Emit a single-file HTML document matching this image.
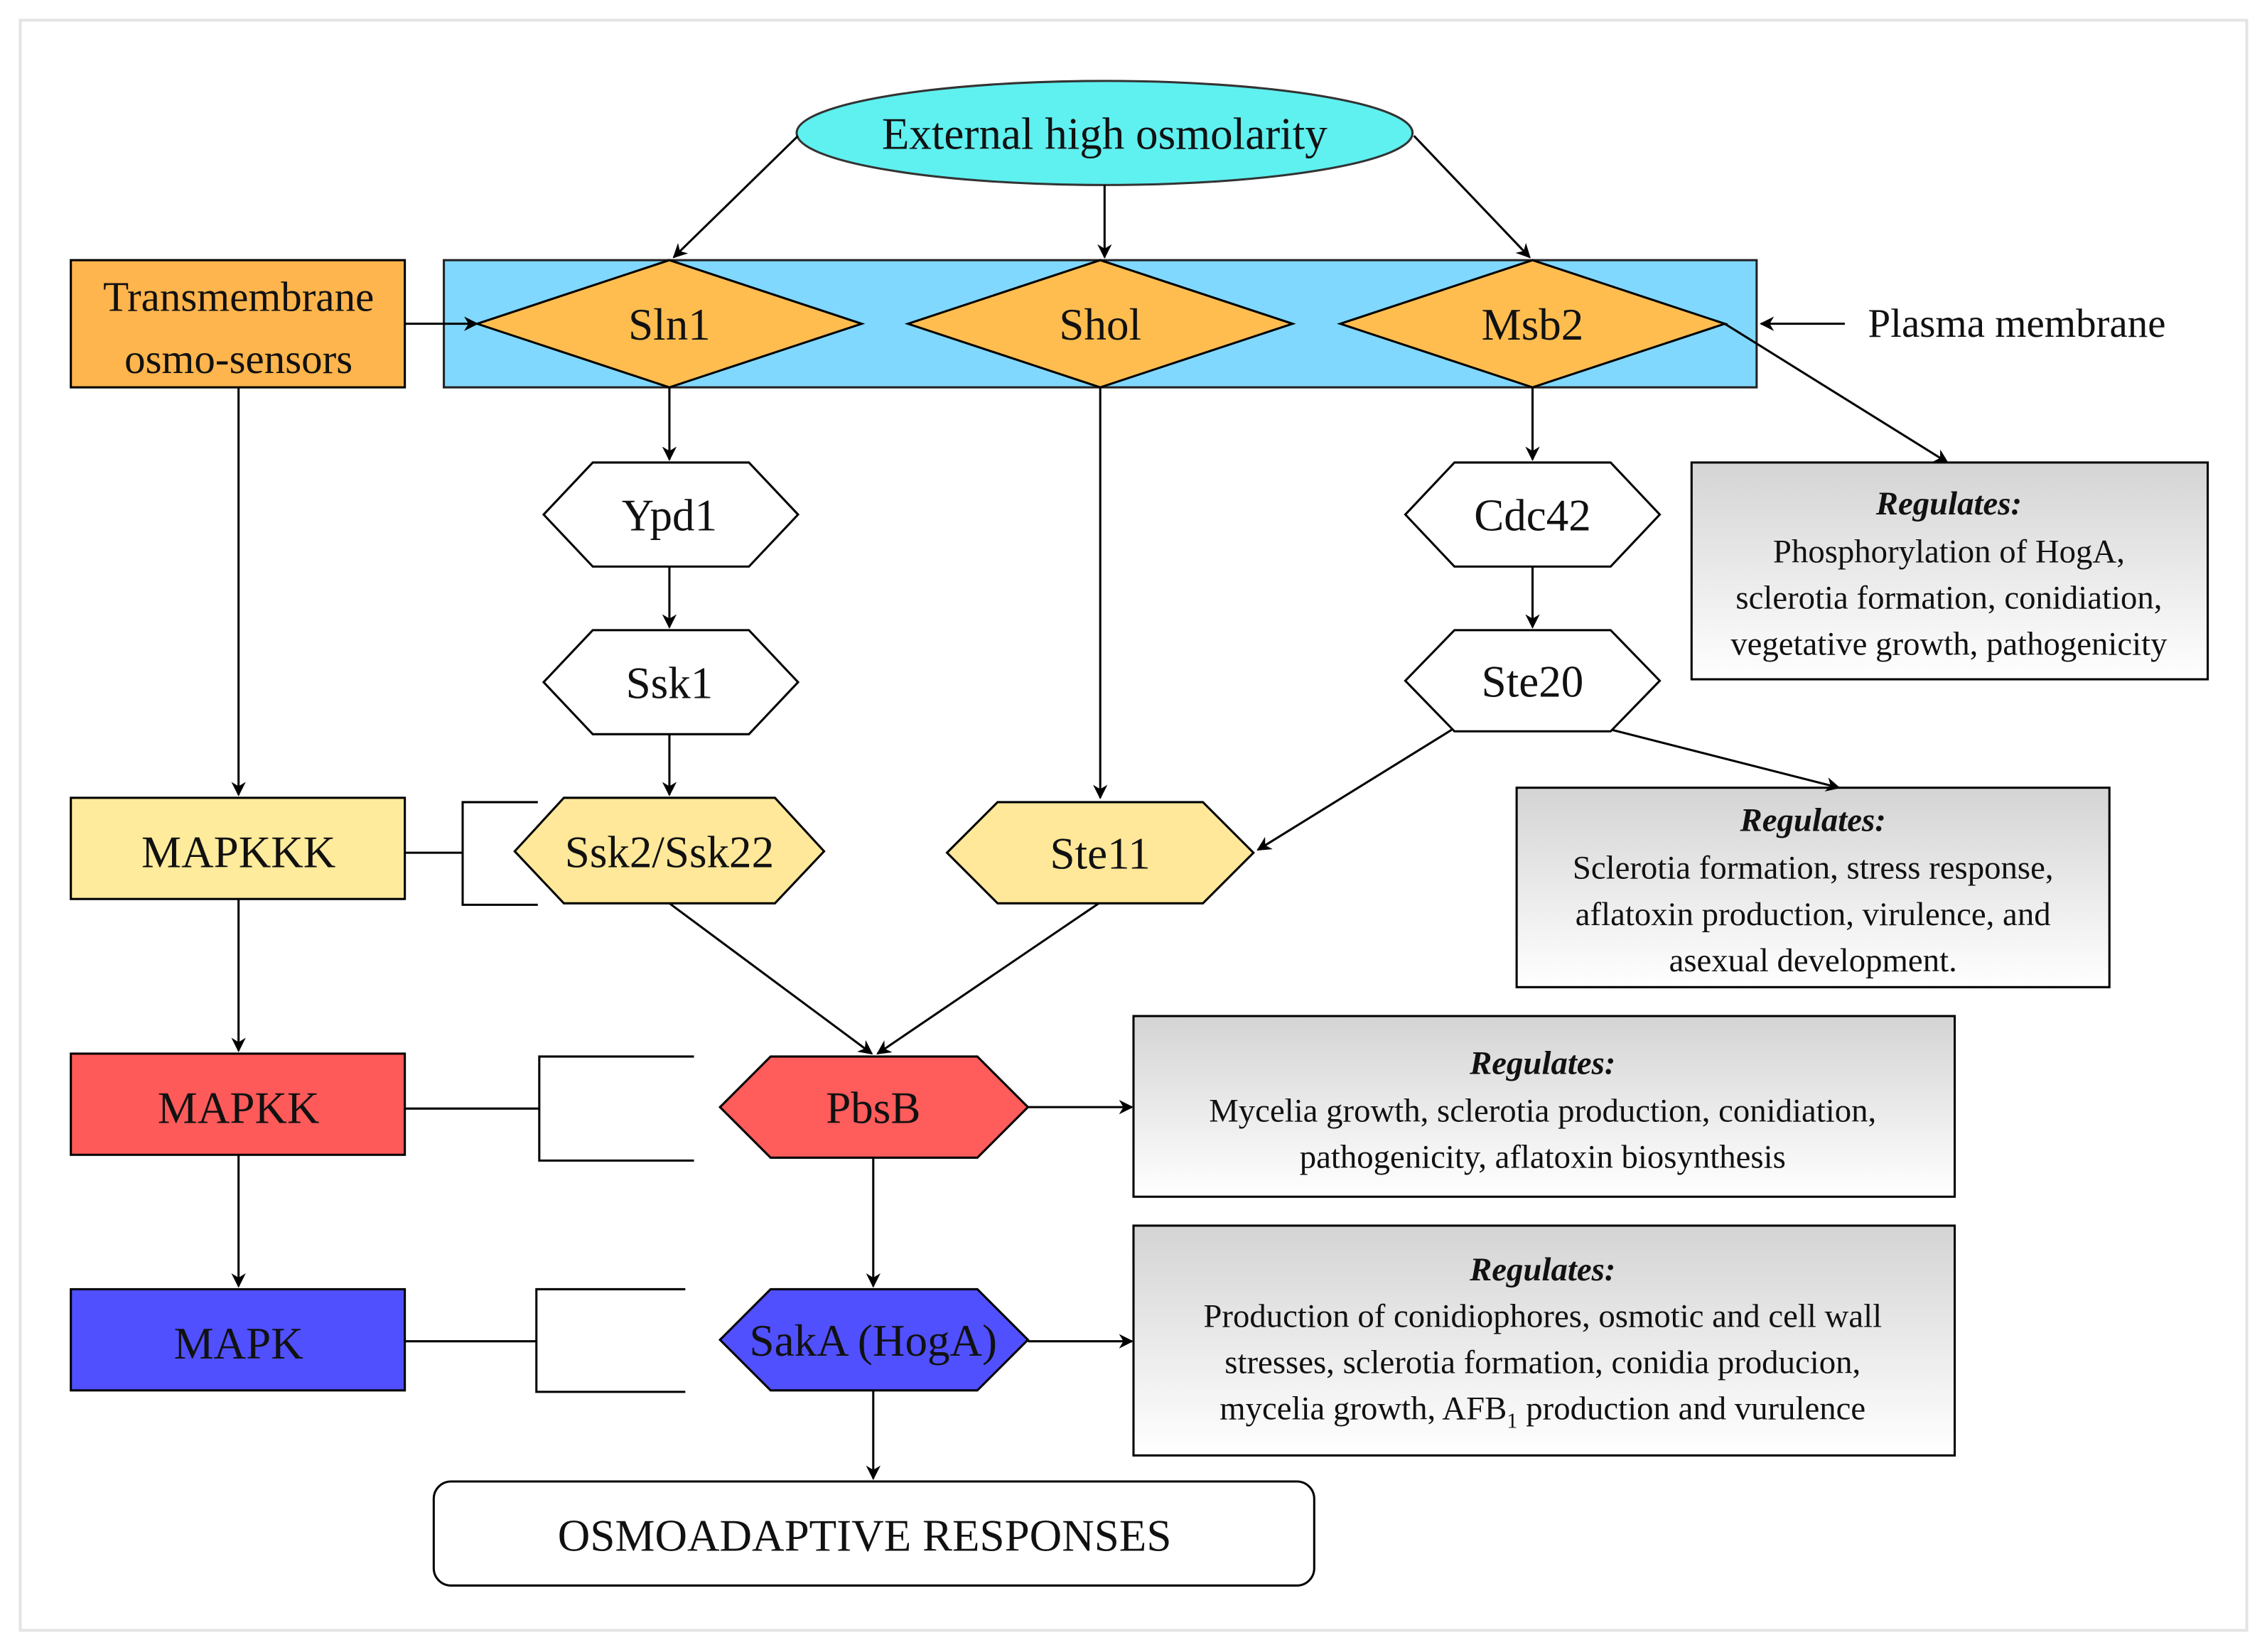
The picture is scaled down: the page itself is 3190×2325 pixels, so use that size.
<!DOCTYPE html>
<html><head><meta charset="utf-8"><style>html,body{margin:0;padding:0;background:#fff}svg{display:block}text{font-family:"Liberation Serif","DejaVu Serif",serif}</style></head>
<body>
<svg width="3190" height="2325" viewBox="0 0 1568 1143" preserveAspectRatio="none" xmlns="http://www.w3.org/2000/svg" style="font-family:'Liberation Serif',serif">
<defs>
<linearGradient id="g" x1="0" y1="0" x2="0" y2="1"><stop offset="0" stop-color="#d4d4d4"/><stop offset="1" stop-color="#ffffff"/></linearGradient>
<marker id="a" markerWidth="10" markerHeight="10" refX="9" refY="5" orient="auto" markerUnits="userSpaceOnUse"><path d="M0,0 L10,5 L0,10 L3,5 z" fill="#000"/></marker>
</defs>
<rect x="0" y="0" width="1568" height="1143" fill="#fff"/>
<rect x="14" y="14" width="1540" height="1114" fill="none" stroke="#e4e4e4" stroke-width="2"/>
<g stroke="#000" stroke-width="1.5">
<ellipse cx="764" cy="92" rx="213" ry="36" fill="#5ff0f0" stroke="#333"/>
<rect x="307" y="180" width="908" height="88" fill="#80d8ff" stroke="#222"/>
<polygon points="330,224 463,180 596,224 463,268" fill="#ffbd4f"/>
<polygon points="628,224 761,180 894,224 761,268" fill="#ffbd4f"/>
<polygon points="927,224 1060,180 1193,224 1060,268" fill="#ffbd4f"/>
<rect x="49" y="180" width="231" height="88" fill="#ffb54d"/>
<polygon points="376,356 410,320 518,320 552,356 518,392 410,392" fill="#fff"/>
<polygon points="376,472 410,436 518,436 552,472 518,508 410,508" fill="#fff"/>
<polygon points="972,356 1006,320 1114,320 1148,356 1114,392 1006,392" fill="#fff"/>
<polygon points="972,471 1006,436 1114,436 1148,471 1114,506 1006,506" fill="#fff"/>
<rect x="1170" y="320" width="357" height="150" fill="url(#g)"/>
<rect x="1049" y="545" width="410" height="138" fill="url(#g)"/>
<rect x="784" y="703" width="568" height="125" fill="url(#g)"/>
<rect x="784" y="848" width="568" height="159" fill="url(#g)"/>
<rect x="49" y="552" width="231" height="70" fill="#ffeb9c"/>
<polygon points="356,589 390,552 536,552 570,589 536,625 390,625" fill="#ffe899"/>
<polygon points="655,590 690,555 832,555 867,590 832,625 690,625" fill="#ffe899"/>
<rect x="49" y="729" width="231" height="70" fill="#ff5a5a"/>
<polygon points="498,766 533,731 676,731 711,766 676,801 533,801" fill="#ff5c5c"/>
<rect x="49" y="892" width="231" height="70" fill="#5050ff"/>
<polygon points="498,927 533,892 676,892 711,927 676,962 533,962" fill="#5050ff"/>
<rect x="300" y="1025" width="609" height="72" rx="12" fill="#fff"/>
<g fill="none">
<polyline points="372,555 320,555 320,626 372,626"/><line x1="280" y1="590" x2="320" y2="590"/>
<polyline points="480,731 373,731 373,803 480,803"/><line x1="280" y1="767" x2="373" y2="767"/>
<polyline points="474,892 371,892 371,963 474,963"/><line x1="280" y1="928" x2="371" y2="928"/>
</g>
<g fill="none" marker-end="url(#a)">
<line x1="552" y1="94" x2="466" y2="178"/>
<line x1="764" y1="128" x2="764" y2="178"/>
<line x1="978" y1="94" x2="1058" y2="178"/>
<line x1="463" y1="268" x2="463" y2="318"/>
<line x1="463" y1="392" x2="463" y2="434"/>
<line x1="463" y1="508" x2="463" y2="550"/>
<line x1="761" y1="268" x2="761" y2="552"/>
<line x1="1060" y1="268" x2="1060" y2="318"/>
<line x1="1060" y1="392" x2="1060" y2="434"/>
<line x1="1004" y1="505" x2="870" y2="588"/>
<line x1="1115" y1="505" x2="1272" y2="545"/>
<line x1="1193" y1="224" x2="1347" y2="320"/>
<line x1="1276" y1="224" x2="1218" y2="224"/>
<line x1="280" y1="224" x2="330" y2="224"/>
<line x1="165" y1="268" x2="165" y2="550"/>
<line x1="165" y1="622" x2="165" y2="727"/>
<line x1="165" y1="799" x2="165" y2="890"/>
<line x1="463" y1="625" x2="603" y2="729"/>
<line x1="760" y1="625" x2="607" y2="729"/>
<line x1="711" y1="766" x2="783" y2="766"/>
<line x1="604" y1="801" x2="604" y2="890"/>
<line x1="711" y1="928" x2="783" y2="928"/>
<line x1="604" y1="962" x2="604" y2="1023"/>
</g>
</g>
<g text-anchor="middle" font-size="31" fill="#111">
<text x="764" y="103">External high osmolarity</text>
<text x="463" y="235">Sln1</text>
<text x="761" y="235">Shol</text>
<text x="1060" y="235">Msb2</text>
<text x="165" y="215" font-size="29">Transmembrane</text>
<text x="165" y="258" font-size="29">osmo-sensors</text>
<text x="463" y="367">Ypd1</text>
<text x="463" y="483">Ssk1</text>
<text x="1060" y="367">Cdc42</text>
<text x="1060" y="482">Ste20</text>
<text x="165" y="600">MAPKKK</text>
<text x="463" y="600">Ssk2/Ssk22</text>
<text x="761" y="601">Ste11</text>
<text x="165" y="777">MAPKK</text>
<text x="604" y="777">PbsB</text>
<text x="165" y="940">MAPK</text>
<text x="604" y="938">SakA (HogA)</text>
<text x="598" y="1073">OSMOADAPTIVE RESPONSES</text>
</g>
<text x="1292" y="233" font-size="28" fill="#111">Plasma membrane</text>
<g text-anchor="middle" font-size="23" fill="#111">
<text x="1348" y="356" font-weight="bold" font-style="italic">Regulates:</text>
<text x="1348" y="389">Phosphorylation of HogA,</text>
<text x="1348" y="421">sclerotia formation, conidiation,</text>
<text x="1348" y="453">vegetative growth, pathogenicity</text>
<text x="1254" y="575" font-weight="bold" font-style="italic">Regulates:</text>
<text x="1254" y="608">Sclerotia formation, stress response,</text>
<text x="1254" y="640">aflatoxin production, virulence, and</text>
<text x="1254" y="672">asexual development.</text>
<text x="1067" y="743" font-weight="bold" font-style="italic">Regulates:</text>
<text x="1067" y="776">Mycelia growth, sclerotia production, conidiation,</text>
<text x="1067" y="808">pathogenicity, aflatoxin biosynthesis</text>
<text x="1067" y="886" font-weight="bold" font-style="italic">Regulates:</text>
<text x="1067" y="918">Production of conidiophores, osmotic and cell wall</text>
<text x="1067" y="950">stresses, sclerotia formation, conidia producion,</text>
<text x="1067" y="982">mycelia growth, AFB<tspan font-size="15" dy="6">1</tspan><tspan dy="-6"> production and vurulence</tspan></text>
</g>
</svg>
</body></html>
